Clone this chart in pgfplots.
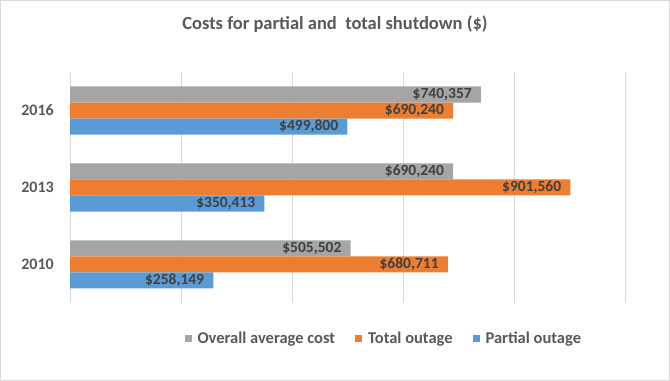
\documentclass[border=0pt]{standalone}
\usepackage{fontspec}
\setmainfont{Carlito}
\usepackage{pgfplots}
\pgfplotsset{compat=1.18}
\definecolor{cblue}{HTML}{5B9BD5}
\definecolor{corange}{HTML}{ED7D31}
\definecolor{cgray}{HTML}{A5A5A5}
\definecolor{ctext}{HTML}{595959}
\definecolor{clab}{HTML}{404040}
\definecolor{cgrid}{HTML}{D9D9D9}
\begin{document}
\begin{tikzpicture}
\draw[cgrid, line width=1bp] (0.5bp,0.5bp) rectangle (669.5bp,380.5bp);
\useasboundingbox (0,0) rectangle (670bp,381bp);
\node[text=ctext, font=\fontsize{18.5bp}{21bp}\selectfont\bfseries] at (335bp,357bp) {Costs for partial and\ \ total shutdown (\$)};
\begin{axis}[
  at={(70bp,78bp)}, anchor=south west,
  scale only axis, width=555bp, height=231bp,
  xbar, bar width=16bp,
  xmin=0, xmax=1000000,
  ymin=-0.5, ymax=2.5,
  xtick={0,200000,400000,600000,800000,1000000},
  xticklabels={}, scaled x ticks=false,
  xmajorgrids, major grid style={cgrid, line width=0.8bp},
  ytick={0,1,2}, yticklabels={2010,2013,2016},
  yticklabel style={text=ctext, font=\fontsize{16bp}{19bp}\selectfont\bfseries, inner sep=0pt, xshift=-16bp},
  major tick length=0pt, tick style={draw=none},
  axis line style={draw=none},
  point meta=explicit symbolic,
  nodes near coords,
  nodes near coords align={horizontal},
  every node near coord/.append style={anchor=east, xshift=-9bp, text=clab, font=\fontsize{15.5bp}{18bp}\selectfont\bfseries, inner sep=0pt},
  legend columns=3,
  legend style={at={(0.5654,-0.152)}, anchor=center, draw=none, fill=none,
    font=\fontsize{16.5bp}{19bp}\selectfont\bfseries, text=ctext,
    /tikz/every odd column/.append style={column sep=4bp},
    /tikz/every even column/.append style={column sep=18bp}},
  legend image code/.code={\fill[#1] (0bp,-3.5bp) rectangle (7bp,3.5bp);},
]
\addplot[fill=cgray, draw=none, bar shift=16bp] coordinates {
  (505502,0) [\$505{,}502]
  (690240,1) [\$690{,}240]
  (740357,2) [\$740{,}357]
};
\addplot[fill=corange, draw=none, bar shift=0bp] coordinates {
  (680711,0) [\$680{,}711]
  (901560,1) [\$901{,}560]
  (690240,2) [\$690{,}240]
};
\addplot[fill=cblue, draw=none, bar shift=-16bp] coordinates {
  (258149,0) [\$258{,}149]
  (350413,1) [\$350{,}413]
  (499800,2) [\$499{,}800]
};
\legend{Overall average cost, Total outage, Partial outage}
\end{axis}
\end{tikzpicture}
\end{document}
